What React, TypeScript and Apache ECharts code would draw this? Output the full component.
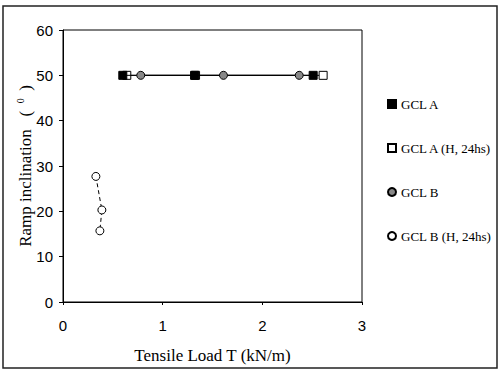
import React, { useEffect, useRef } from "react";
import * as echarts from "echarts";

const seriesNames = ["GCL A", "GCL A (H, 24hs)", "GCL B", "GCL B (H, 24hs)"];
const gclA: number[][] = [[0.6, 50], [1.32, 50], [2.51, 50]];
const gclAH: number[][] = [[0.64, 50], [1.33, 50], [2.61, 50]];
const gclB: number[][] = [[0.78, 50], [1.61, 50], [2.37, 50]];
const gclBH: number[][] = [[0.33, 27.7], [0.39, 20.3], [0.37, 15.7]];
const xTicks = { min: 0, max: 3, interval: 1 };
const yTicks = { min: 0, max: 60, interval: 10 };

const serif = "'Liberation Serif', 'Times New Roman', serif";
const sans = "'Liberation Sans', Arial, sans-serif";

export default function App() {
  const ref = useRef<HTMLDivElement>(null);
  useEffect(() => {
    document.body.style.margin = "0";
    if (!ref.current) return;
    const chart = echarts.init(ref.current, undefined, { renderer: "svg" });
    chart.setOption({
      animation: false,
      backgroundColor: "#fff",
      graphic: [
        {
          type: "rect",
          shape: { x: 3, y: 6, width: 494, height: 362 },
          style: { fill: "none", stroke: "#222", lineWidth: 1.5 },
          silent: true,
        },
      ],
      grid: {
        left: 63,
        top: 30,
        right: 138,
        bottom: 69,
        show: true,
        borderColor: "#000",
        borderWidth: 1,
      },
      legend: {
        orient: "vertical",
        left: 382,
        top: 92,
        itemGap: 30,
        itemWidth: 8,
        itemHeight: 8,
        textStyle: { fontFamily: serif, fontSize: 13, color: "#000", lineHeight: 14 },
        data: [
          { name: seriesNames[0], icon: "rect" },
          { name: seriesNames[1], icon: "rect" },
          { name: seriesNames[2], icon: "circle" },
          { name: seriesNames[3], icon: "circle" },
        ],
      },
      xAxis: {
        type: "value",
        min: xTicks.min,
        max: xTicks.max,
        interval: xTicks.interval,
        name: "Tensile Load T (kN/m)",
        nameLocation: "middle",
        nameGap: 45,
        nameMoveOverlap: false,
        nameTextStyle: { fontFamily: serif, fontSize: 17, color: "#000" },
        axisLine: { onZero: false, lineStyle: { color: "#000", width: 1 } },
        axisTick: { show: true, length: 3, lineStyle: { color: "#000" } },
        axisLabel: { fontFamily: sans, fontSize: 15, color: "#000", margin: 16 },
        splitLine: { show: false },
      },
      yAxis: {
        type: "value",
        min: yTicks.min,
        max: yTicks.max,
        interval: yTicks.interval,
        name: "{a|Ramp inclination   (}{s|   0   }{a|)}",
        nameLocation: "middle",
        nameGap: 28,
        nameMoveOverlap: false,
        nameTextStyle: {
          color: "#000",
          rich: {
            a: { fontFamily: serif, fontSize: 17, color: "#000", lineHeight: 20 },
            s: { fontFamily: serif, fontSize: 10, color: "#000", verticalAlign: "top", lineHeight: 20 },
          },
        },
        axisLine: { onZero: false, lineStyle: { color: "#000", width: 1 } },
        axisTick: { show: true, length: 4, lineStyle: { color: "#000" } },
        axisLabel: { fontFamily: sans, fontSize: 15, color: "#000", margin: 10 },
        splitLine: { show: false },
      },
      series: [
        {
          name: seriesNames[1],
          type: "line",
          data: gclAH,
          z: 2,
          symbol: "rect",
          symbolSize: 8,
          itemStyle: { color: "#fff", borderColor: "#000", borderWidth: 1 },
          lineStyle: { color: "#000", width: 1 },
        },
        {
          name: seriesNames[0],
          type: "line",
          data: gclA,
          z: 3,
          symbol: "rect",
          symbolSize: 8,
          itemStyle: { color: "#000", borderColor: "#000", borderWidth: 1 },
          lineStyle: { color: "#000", width: 1 },
        },
        {
          name: seriesNames[2],
          type: "line",
          data: gclB,
          z: 3,
          symbol: "circle",
          symbolSize: 8,
          itemStyle: { color: "#888", borderColor: "#000", borderWidth: 1 },
          lineStyle: { color: "#000", width: 1 },
        },
        {
          name: seriesNames[3],
          type: "line",
          data: gclBH,
          z: 3,
          symbol: "circle",
          symbolSize: 8,
          itemStyle: { color: "#fff", borderColor: "#000", borderWidth: 1 },
          lineStyle: { color: "#000", width: 1, type: [4, 3] },
        },
      ],
    });
    return () => chart.dispose();
  }, []);
  return <div ref={ref} style={{ width: 500, height: 371 }} />;
}
